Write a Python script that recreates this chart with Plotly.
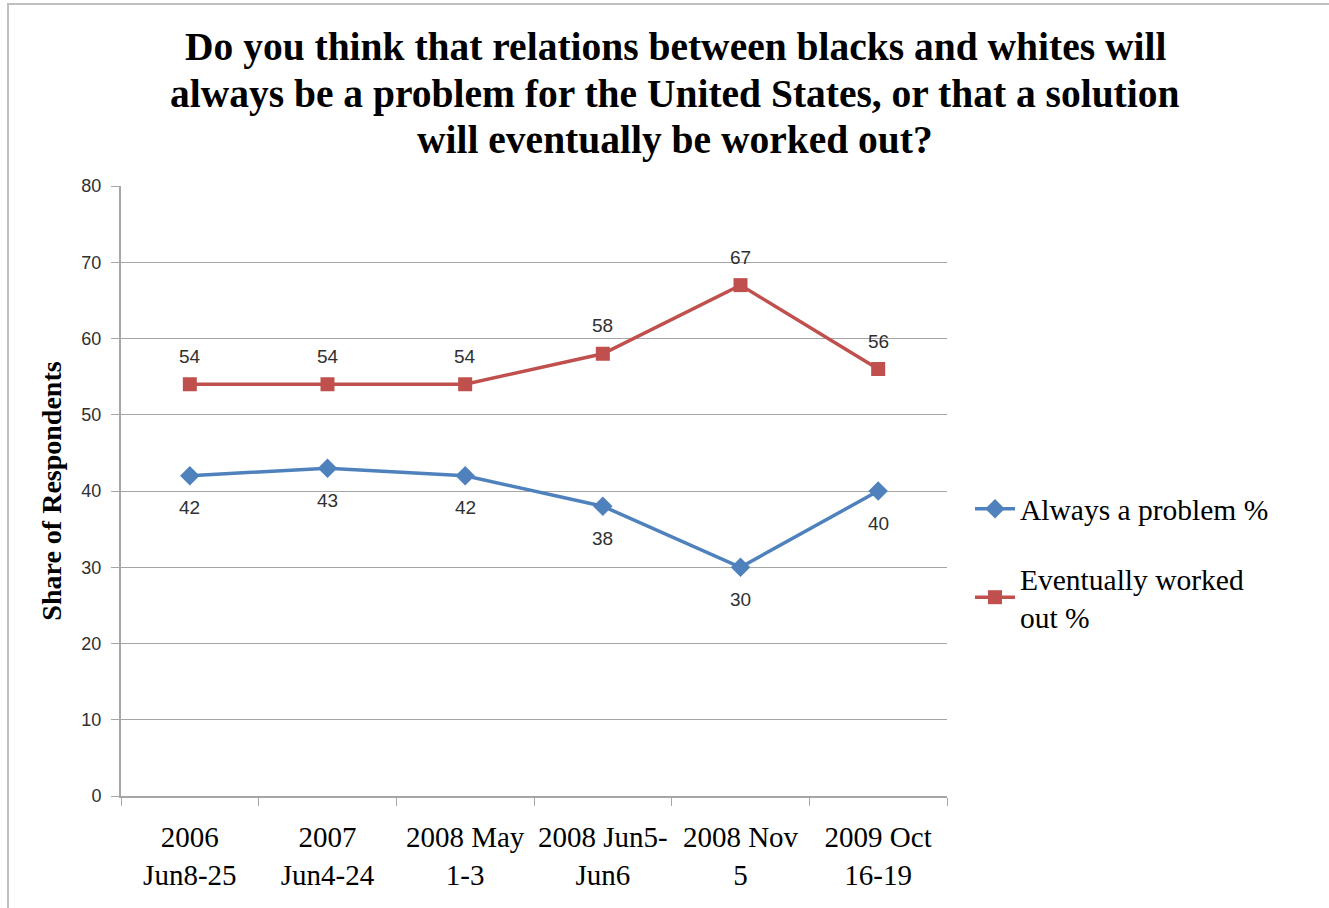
import plotly.graph_objects as go

categories = ["2006<br>Jun8-25", "2007<br>Jun4-24", "2008 May<br>1-3",
              "2008 Jun5-<br>Jun6", "2008 Nov<br>5", "2009 Oct<br>16-19"]
always_problem = [42, 43, 42, 38, 30, 40]
worked_out = [54, 54, 54, 58, 67, 56]
y_ticks = [0, 10, 20, 30, 40, 50, 60, 70, 80]
title_lines = ["Do you think that relations between blacks and whites will",
               "always be a problem for the United States, or that a solution",
               "will eventually be worked out?"]

BLUE = "#4F81BD"
RED = "#C0504D"
GRID = "#A6A6A6"
SERIF = "Liberation Serif, Times New Roman, serif"
SANS = "Liberation Sans, Arial, sans-serif"

fig = go.Figure()
fig.add_trace(go.Scatter(
    x=categories, y=always_problem, name="Always a problem %",
    mode="lines+markers", line=dict(color=BLUE, width=3.5),
    marker=dict(symbol="diamond", size=15, color=BLUE),
    legendgroup="a", hoverinfo="skip"))
fig.add_trace(go.Scatter(
    x=categories, y=worked_out, name="Eventually worked<br>out %",
    mode="lines+markers", line=dict(color=RED, width=3.5),
    marker=dict(symbol="square", size=14, color=RED),
    legendgroup="b", hoverinfo="skip"))

for c, v in zip(categories, always_problem):
    fig.add_annotation(x=c, y=v, text=str(v), showarrow=False, yshift=-32,
                       font=dict(family=SANS, size=19, color="#303030"))
for c, v in zip(categories, worked_out):
    fig.add_annotation(x=c, y=v, text=str(v), showarrow=False, yshift=28,
                       font=dict(family=SANS, size=19, color="#303030"))

W, H = 1329, 908
L, R, T, B = 121, 947, 186, 796
pw, ph = R - L, B - T

def px(x):
    return (x - L) / pw

def py(y):
    return (B - y) / ph

# title, one annotation per line to match the reference line spacing
for line, yc in zip(title_lines, [47, 94, 140]):
    fig.add_annotation(xref="paper", yref="paper", x=px(675), y=py(yc),
                       xanchor="center", yanchor="middle", showarrow=False,
                       text="<b>" + line + "</b>",
                       font=dict(family=SERIF, size=39.5, color="black"))

fig.add_shape(type="rect", xref="paper", yref="paper",
              x0=px(8), x1=px(1340), y0=py(920), y1=py(4),
              line=dict(color="#BFBFBF", width=2), fillcolor="rgba(0,0,0,0)",
              layer="below")

fig.update_layout(
    width=W, height=H,
    margin=dict(l=L, r=W - R, t=T, b=H - B, pad=0),
    paper_bgcolor="white", plot_bgcolor="white",
    xaxis=dict(
        type="category", range=[-0.5, 5.5], tickson="boundaries",
        ticks="outside", ticklen=8, tickcolor=GRID, tickwidth=1,
        showline=True, linecolor=GRID, linewidth=2, showgrid=False,
        tickangle=0, automargin=False,
        tickfont=dict(family=SERIF, size=29, color="black"),
        ticklabelstandoff=14, zeroline=False, fixedrange=True),
    yaxis=dict(
        range=[0, 80], tickvals=y_ticks, ticks="outside", ticklen=8,
        tickcolor=GRID, showline=True, linecolor=GRID, linewidth=2,
        showgrid=True, gridcolor=GRID, gridwidth=1, zeroline=False,
        automargin=False,
        tickfont=dict(family=SANS, size=18, color="#303030"),
        ticklabelstandoff=6,
        title=dict(text="Share of Respondents", standoff=12,
                   font=dict(family=SERIF, size=28, color="black", weight="bold")),
        fixedrange=True),
    legend=dict(
        x=px(970), xanchor="left", y=py(483), yanchor="top",
        font=dict(family=SERIF, size=29.5, color="black"),
        tracegroupgap=28, itemwidth=40, bgcolor="rgba(0,0,0,0)"),
    showlegend=True,
)

fig.write_html("out.html")
